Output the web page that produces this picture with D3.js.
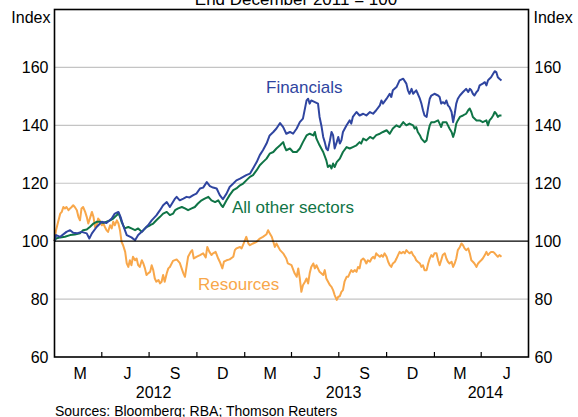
<!DOCTYPE html>
<html>
<head>
<meta charset="utf-8">
<script src="https://cdn.jsdelivr.net/npm/d3@7"></script>
<style>
  body { margin: 0; background: #fff; }
  svg { display: block; font-family: Arial, "Liberation Sans", sans-serif; }
</style>
</head>
<body>
<script>
// index values (end December 2011 = 100), as [days since 1 Jan 2012, index]
const financials = [[0,100],[3,102.1],[11,101.5],[23,103.2],[30,103.8],[36,102.9],[43,102.7],[52,103.2],[62,102.7],[67,100.9],[72,102.7],[81,104.9],[91,106.7],[100,106.3],[110,107.8],[116,109.5],[123,110.1],[127,108.4],[132,105.5],[139,102.1],[148,101.3],[155,100.3],[161,102.1],[171,103.8],[180,105.5],[187,107.2],[196,108.9],[203,110.7],[209,112.4],[216,113.5],[222,111.8],[232,114.7],[235,115.3],[241,114.1],[248,114.7],[254,115.3],[260,115.1],[267,115.9],[273,116.4],[280,118.2],[286,118.5],[293,120.4],[299,119],[305,118.5],[312,118.2],[318,115.9],[324,114.5],[331,116.4],[337,118.7],[344,119.9],[350,121],[357,121.6],[363,122.2],[369,122.8],[376,123.3],[382,125.1],[389,127.3],[395,129.7],[401,131.4],[408,133.7],[414,136.5],[421,137.7],[427,138.9],[434,140.8],[440,139.4],[446,137.1],[453,137.7],[459,137.1],[466,138.9],[472,141.1],[478,142.3],[485,148.6],[488,149.2],[491,147.5],[494,148.6],[501,148],[507,147.5],[510,142.9],[514,139.4],[517,136],[520,134.2],[523,132],[526,131.4],[530,134.8],[533,137.7],[536,136.6],[539,132],[543,134.2],[546,136],[549,133.7],[552,134.8],[555,137.7],[562,140],[568,141.7],[571,140.6],[574,142.9],[581,144.6],[587,143.4],[594,144],[600,143.4],[607,144.6],[613,144],[619,145.2],[626,146.9],[629,148.6],[632,147.5],[639,149.2],[645,150.9],[648,149.8],[651,152.1],[658,153.2],[664,155.5],[671,156.1],[677,154.4],[680,152.1],[683,150.9],[687,152.6],[690,150.9],[696,152.1],[699,150.9],[703,149.2],[706,147.5],[709,145.2],[712,143.4],[716,142.9],[719,146.3],[722,149.2],[725,150.3],[731,150.9],[738,150.3],[741,149.8],[744,147.5],[747,148],[751,147.5],[754,148.6],[757,146.9],[760,146.3],[764,144.6],[767,141.1],[770,144],[773,147.5],[776,149.2],[780,150.3],[786,151.5],[792,152.6],[796,151.5],[799,152.6],[802,152.1],[805,150.9],[808,150.3],[812,151.5],[815,152.1],[818,153.8],[824,154.4],[828,154.9],[831,153.8],[834,155.5],[837,156.1],[840,156.6],[844,157.8],[847,158.7],[850,158.4],[853,156.6],[856,156.1],[860,155.5]];

const otherSectors = [[0,100],[3,100.9],[11,101.3],[20,101.5],[30,102.1],[39,102.3],[49,102.7],[55,103.8],[62,104],[68,104.9],[75,106.1],[81,106.7],[87,106.7],[94,106.3],[100,106.7],[107,107.2],[113,107.8],[120,109],[123,109.8],[126,108.4],[129,106.7],[135,104.4],[142,104.9],[148,104.4],[155,103.8],[161,104.4],[168,103.2],[171,103.8],[177,104.9],[184,105.5],[190,106.1],[196,107.2],[203,108.4],[209,109.5],[216,110.1],[222,109],[228,109.5],[232,110.7],[238,111.3],[245,111.8],[251,111.3],[257,110.7],[264,111.3],[270,111.8],[276,113],[283,114.1],[289,114.7],[296,115.3],[302,114.1],[309,113.5],[315,114.1],[321,112.4],[324,111.8],[331,114.1],[337,115.9],[344,117.6],[350,118.2],[357,119.3],[363,119.9],[369,121],[376,122.2],[382,122.8],[389,124.5],[395,126.2],[401,127.3],[408,128.5],[414,130.2],[421,130.8],[427,132],[434,133.1],[440,134.2],[443,132.5],[446,131.4],[453,132],[459,130.8],[466,130.8],[472,132],[478,134.2],[485,136.5],[491,137.1],[498,136.5],[501,137.7],[504,135.4],[510,133.1],[517,130.8],[523,127.9],[526,125.6],[530,126.2],[533,125.1],[536,126.8],[539,125.6],[543,127.3],[546,127.9],[549,128.5],[555,130.8],[562,132.5],[568,132],[574,132.5],[581,133.1],[587,134.2],[590,133.7],[594,135.4],[600,134.8],[607,136],[613,135.4],[619,136.6],[626,137.1],[632,137.7],[639,138.3],[645,137.1],[651,138.9],[658,140],[664,139.4],[671,141.1],[677,140],[683,140.6],[690,140],[693,138.9],[696,139.4],[699,137.7],[703,136.6],[706,135.4],[709,134.8],[712,134.2],[716,134.8],[719,137.7],[722,140],[725,141.1],[731,141.1],[738,141.7],[741,140.6],[744,139.4],[747,141.1],[754,141.1],[757,140],[760,138.9],[764,137.7],[767,136],[770,137.7],[773,140.6],[776,141.7],[780,142.9],[786,143.4],[792,144],[796,145.2],[799,145.8],[802,144.6],[805,142.9],[812,141.7],[818,141.7],[824,141.1],[831,141.7],[834,140],[837,141.7],[840,142.3],[844,143.4],[847,144.6],[850,144],[853,142.9],[856,143.4],[860,143.4]];

const resources = [[0,100],[3,103.8],[7,106.7],[11,109.5],[14,110.1],[17,111.8],[20,111.3],[23,111.8],[27,110.7],[30,111.3],[33,111.8],[36,112.4],[39,111.8],[43,110.7],[46,108.4],[49,107.2],[52,111.3],[55,111.8],[59,110.1],[62,108.4],[65,106.1],[68,107.8],[72,110.1],[75,108.4],[78,104.9],[81,105.5],[84,107.8],[87,107.2],[91,105.5],[94,106.1],[97,104.9],[100,103.8],[103,103.2],[107,105.5],[110,104.4],[113,106.7],[116,105.5],[120,107.2],[123,106.1],[126,103.8],[129,99.8],[132,98.6],[136,96.3],[139,92.3],[142,91.1],[145,93.4],[148,91.7],[151,94.6],[155,93.4],[158,94],[161,91.7],[164,91.1],[168,93.4],[171,92.3],[174,90.6],[177,88.3],[180,88.9],[184,89.4],[187,91.7],[190,90],[193,87.1],[196,86],[200,86.6],[203,85.4],[206,86],[209,88.3],[212,86],[216,88.9],[219,90.6],[222,91.1],[228,93.2],[235,93.7],[241,92.5],[248,88.9],[251,87.7],[254,91.1],[257,94.6],[262,96.3],[265,96.9],[268,94],[273,94.6],[280,95.2],[286,95.8],[291,94.4],[294,98],[298,96.3],[302,95.2],[305,95.8],[310,96.3],[315,94],[318,92.9],[323,90.6],[326,92.9],[331,93.4],[337,93.7],[344,94.6],[347,96.9],[350,97.5],[357,98],[360,97.5],[364,99.2],[369,101.5],[373,99.2],[376,98.6],[382,99.2],[389,99.8],[395,100.9],[401,101.5],[408,102.4],[411,103.8],[414,102.7],[418,101.5],[421,99.8],[424,98],[427,99.2],[434,96.9],[440,95.8],[446,94],[449,92.3],[456,91.7],[462,88.9],[466,87.7],[469,90.6],[472,87.1],[475,82.5],[478,84.8],[482,86],[485,87.1],[488,85.4],[491,88.9],[494,91.1],[498,92.3],[501,90.6],[504,91.7],[510,89.4],[517,88.3],[520,90],[523,87.1],[530,84.8],[533,84.2],[536,83.1],[539,81.4],[543,79.7],[546,80.8],[549,81],[552,82.5],[555,83.1],[558,86],[562,87.7],[565,87.7],[568,88.9],[571,90],[574,89.4],[578,90],[581,89.4],[584,91.1],[587,90.6],[590,93.4],[594,94],[597,93.4],[600,92.3],[603,93.4],[607,92.9],[610,94],[613,94.6],[616,94],[619,95.8],[622,95.2],[626,94.6],[629,95.2],[632,94.6],[635,95.8],[639,94.6],[642,92.9],[645,91.7],[648,91.1],[651,92.3],[655,92.9],[658,94],[661,95.2],[664,96.3],[667,95.8],[671,96.3],[674,95.8],[677,96.9],[680,96.3],[683,95.8],[687,96.3],[690,95.2],[693,94.6],[696,93.4],[699,92.9],[703,92.3],[706,91.1],[709,91.7],[712,90],[716,90],[719,92.3],[722,94],[725,95.2],[728,94.6],[731,95.8],[735,95.8],[738,93.4],[741,91.7],[744,93.4],[747,95.2],[751,95.8],[754,94],[757,92.9],[760,92.3],[764,92.9],[767,91.1],[770,92.3],[773,94],[776,96.9],[780,98],[783,99.2],[786,98.6],[789,97.5],[792,96.9],[796,97.5],[799,95.8],[802,93.4],[805,92.9],[808,92.3],[812,91.1],[815,92.3],[818,92.9],[821,93.4],[824,94],[828,95.2],[831,96.3],[834,95.2],[837,95.8],[840,96.3],[844,96.3],[847,95.8],[850,95.2],[853,94.6],[856,95.2],[860,94.6]];

const yTicks = [60, 80, 100, 120, 140, 160];
const quarterLabels = ["M", "J", "S", "D"];
const years = [2012, 2013, 2014];

const series = [
  { name: "Financials", data: financials, color: "#2f45a0", lx: 266, ly: 93 },
  { name: "All other sectors", data: otherSectors, color: "#0f7446", lx: 232, ly: 213 },
  { name: "Resources", data: resources, color: "#f8a74a", lx: 198, ly: 290 }
];

const width = 578, height = 417;
const mLeft = 54.5, mRight = 528.5, mTop = 9.5, mBottom = 357;
const start = new Date(2012, 0, 1), end = new Date(2014, 6, 1);

const svg = d3.select("body").append("svg").attr("width", width).attr("height", height);
svg.append("rect").attr("width", width).attr("height", height).attr("fill", "#fff");

const x = d3.scaleTime().domain([start, end]).range([mLeft, mRight]);
const y = d3.scaleLinear().domain([60, 180]).range([mBottom, mTop]);
const toDate = d => d3.timeDay.offset(start, d);

// gridlines
svg.append("g").selectAll("line")
  .data(yTicks.filter(t => t !== 60 && t !== 100))
  .enter().append("line")
  .attr("x1", mLeft).attr("x2", mRight)
  .attr("y1", d => y(d)).attr("y2", d => y(d))
  .attr("stroke", "#c4c4c4").attr("stroke-width", 1.2);

// y axis labels, both sides
const yl = svg.append("g").attr("font-size", 16).attr("fill", "#000");
yl.selectAll(".yl").data(yTicks).enter().append("text")
  .attr("x", mLeft - 6).attr("y", d => y(d) + 6).attr("text-anchor", "end").text(d => d);
yl.selectAll(".yr").data(yTicks).enter().append("text")
  .attr("x", mRight + 6).attr("y", d => y(d) + 6).text(d => d);
yl.append("text").attr("x", mLeft - 4).attr("y", 23).attr("text-anchor", "end").text("Index");
yl.append("text").attr("x", mRight + 5).attr("y", 23).text("Index");

// lines
const line = d3.line().x(d => x(toDate(d[0]))).y(d => y(d[1]));
svg.append("g").selectAll("path")
  .data(series.slice().reverse())
  .enter().append("path")
  .attr("d", d => line(d.data))
  .attr("fill", "none")
  .attr("stroke", d => d.color)
  .attr("stroke-width", 2)
  .attr("stroke-linejoin", "round");

// 100 line
svg.append("line")
  .attr("x1", mLeft).attr("x2", mRight).attr("y1", y(100)).attr("y2", y(100))
  .attr("stroke", "#000").attr("stroke-width", 1.2);

// series labels
svg.append("g").selectAll("text")
  .data(series).enter().append("text")
  .attr("x", d => d.lx).attr("y", d => d.ly)
  .attr("font-size", 17).attr("fill", d => d.color)
  .text(d => d.name);

// frame
svg.append("rect")
  .attr("x", mLeft).attr("y", mTop).attr("width", mRight - mLeft).attr("height", mBottom - mTop)
  .attr("fill", "none").attr("stroke", "#000").attr("stroke-width", 1.6);

// x ticks at quarter boundaries
const quarters = d3.timeMonth.every(3).range(start, end);
svg.append("g").selectAll("line")
  .data(quarters.slice(1))
  .enter().append("line")
  .attr("x1", d => x(d)).attr("x2", d => x(d))
  .attr("y1", mBottom).attr("y2", mBottom - 5)
  .attr("stroke", "#000").attr("stroke-width", 1.2);

// quarter labels
svg.append("g").attr("font-size", 16).selectAll("text")
  .data(quarters).enter().append("text")
  .attr("x", d => (x(d) + x(d3.timeMonth.offset(d, 3))) / 2 + 2)
  .attr("y", 379)
  .attr("text-anchor", "middle")
  .text((d, i) => quarterLabels[i % 4]);

// year labels
svg.append("g").attr("font-size", 16).selectAll("text")
  .data(years).enter().append("text")
  .attr("x", d => {
    const a = x(new Date(d, 0, 1)), b = x(d3.min([new Date(d + 1, 0, 1), end]));
    return (a + b) / 2 + 4;
  })
  .attr("y", 398)
  .attr("text-anchor", "middle")
  .text(d => d);

// title (mostly cut off at top) and sources
svg.append("text").attr("x", 296).attr("y", 5).attr("font-size", 17)
  .attr("text-anchor", "middle").text("End December 2011 = 100");
svg.append("text").attr("x", 55).attr("y", 416).attr("font-size", 14)
  .text("Sources: Bloomberg; RBA; Thomson Reuters");
</script>
</body>
</html>
